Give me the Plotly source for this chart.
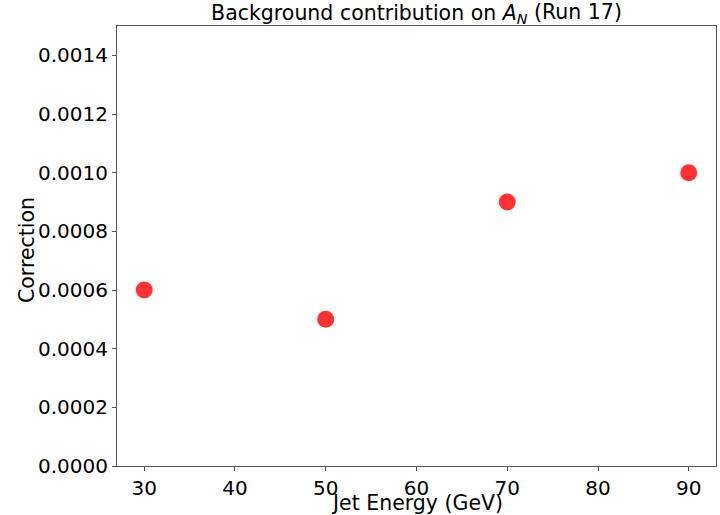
import plotly.graph_objects as go

jet_energy = [30, 50, 70, 90]
correction = [0.0006, 0.0005, 0.0009, 0.0010]
y_ticks = [0.0, 0.0002, 0.0004, 0.0006, 0.0008, 0.0010, 0.0012, 0.0014]
x_ticks = [30, 40, 50, 60, 70, 80, 90]

fig = go.Figure()
fig.add_trace(go.Scatter(
    x=jet_energy, y=correction, mode="markers",
    marker=dict(color="red", size=17, opacity=0.8, line=dict(width=0)),
))

axis_common = dict(
    showgrid=False, zeroline=False, showline=True, mirror=True,
    linecolor="#555555", linewidth=1, ticks="outside", ticklen=4,
    tickcolor="#555555", automargin=False,
    tickfont=dict(family="DejaVu Sans", size=20, color="black"),
)
L, R, T, B = 117, 4, 26, 49
W, H = 720, 515
pw, ph = W - L - R, H - T - B
fig.update_layout(
    width=W, height=H,
    margin=dict(l=L, r=R, t=T, b=B),
    paper_bgcolor="white", plot_bgcolor="white",
    showlegend=False,
    font=dict(family="DejaVu Sans", color="black"),
    title=dict(
        text="Background contribution on <i>A<sub>N</sub></i> (Run 17)",
        x=0.5, xref="paper", xanchor="center", y=0.99, yanchor="top",
        font=dict(family="DejaVu Sans", size=20.5, color="black"),
    ),
    annotations=[
        dict(text="Jet Energy (GeV)", xref="paper", yref="paper",
             x=0.5, y=(H - B - 503) / ph, xanchor="center", yanchor="middle",
             showarrow=False, font=dict(family="DejaVu Sans", size=20.5, color="black")),
        dict(text="Correction", xref="paper", yref="paper",
             x=(27 - L) / pw, y=(H - B - 250) / ph, xanchor="center", yanchor="middle",
             textangle=-90, showarrow=False,
             font=dict(family="DejaVu Sans", size=20.5, color="black")),
    ],
)
fig.update_xaxes(range=[27, 93], tickvals=x_ticks, **axis_common)
fig.update_yaxes(range=[0, 0.0015], tickvals=y_ticks, tickformat=".4f", **axis_common)

fig.write_html("out.html")
